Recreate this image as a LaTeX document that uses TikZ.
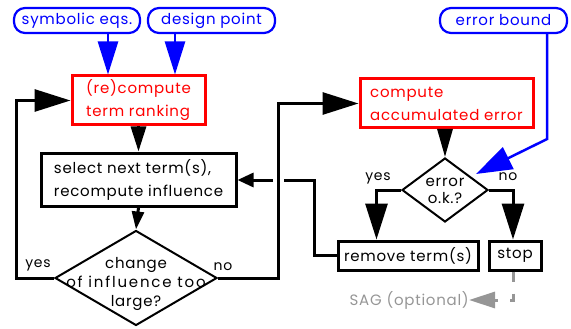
\documentclass[tikz,border=0pt]{standalone}
\usepackage{fontspec}
\setmainfont{Poppins}[LetterSpace=5]
\usetikzlibrary{arrows.meta,shapes.geometric,calc}
\definecolor{sagray}{RGB}{150,150,150}
\begin{document}
\begin{tikzpicture}[x=1pt,y=-1pt,
  every node/.style={font=\fontsize{15}{23}\selectfont, inner sep=0pt},
  inbox/.style={draw=blue, line width=2.2pt, rounded corners=11pt, text=blue, minimum height=25pt},
  redbox/.style={draw=red, line width=3pt, text=red, align=left},
  blkbox/.style={draw=black, line width=3pt, align=left},
  diam/.style={draw=black, line width=2pt, diamond, inner sep=0pt},
  conn/.style={line width=3pt, black},
  bconn/.style={line width=2.5pt, blue},
  bigtip/.style={-{Triangle[length=36pt,width=22pt]}},
  midtip/.style={-{Triangle[length=25pt,width=15pt]}},
  smalltip/.style={-{Triangle[length=18pt,width=12pt]}},
  lbl/.style={font=\fontsize{14}{16}\selectfont}
]
\useasboundingbox (0,0) rectangle (571,329);

% input nodes
\node[inbox, minimum width=126pt] (sym) at (77,20.5) {symbolic eqs.};
\node[inbox, minimum width=127pt] (dp) at (211.5,20.5) {design point};
\node[inbox, minimum width=127pt] (eb) at (503.5,20.5) {error bound};

% process boxes
\node[redbox, minimum width=133pt, minimum height=49pt] (rc) at (138.5,100.5) {(re)compute\\term ranking};
\node[blkbox, minimum width=195pt, minimum height=53pt] (sel) at (138.5,179.5) {select next term(s),\\recompute influence};
\node[redbox, minimum width=173pt, minimum height=49pt] (ce) at (446.5,103.5) {compute\\accumulated error};
\node[blkbox, minimum width=140pt, minimum height=29pt] (rm) at (408,255.5) {remove term(s)};
\node[blkbox, minimum width=52pt, minimum height=29pt] (st) at (515,255.5) {stop};

% decisions
\node[diam, minimum width=162pt, minimum height=95pt] (d1) at (136,278) {};
\node[align=center, font=\fontsize{15}{19}\selectfont] (d1t) at (136,284) {change\\{\addfontfeature{LetterSpace=12}of influence too}\\large?};
\node[diam, minimum width=86pt, minimum height=64pt] (ed) at (445,190) {};
\node[align=center, font=\fontsize{15}{17}\selectfont] (edt) at (445,191) {error\\o.k.?};

% SAG
\node[text=sagray, anchor=east] (sag) at (469,300) {SAG (optional)};

% labels
\node[lbl] (l1) at (38,265) {yes};
\node[lbl] (l2) at (223,267) {no};
\node[lbl] (l3) at (378,178) {yes};
\node[lbl] (l4) at (508,177) {no};

% blue inputs
\draw[bconn, -{Triangle[length=33pt,width=20pt]}] ([xshift=31pt]sym.south) -- ([xshift=31pt]sym.south |- rc.north);
\draw[bconn, -{Triangle[length=33pt,width=20pt]}] ([xshift=-36.5pt]dp.south) -- ([xshift=-36.5pt]dp.south |- rc.north);
\coordinate (ebtip) at (476,174);
\draw[bconn, -{Triangle[length=36pt,width=24pt]}] ([xshift=43.5pt]eb.south) -- ++(0,105) -- (ebtip);

% main flow
\draw[conn, midtip] (rc.south) -- (sel.north);
\draw[conn, smalltip] (sel.south) -- (d1.north);
\draw[conn, bigtip] (d1.west) -- (16,278) |- (rc.west);
\draw[conn, bigtip] (d1.east) -- (278,278) |- (ce.west);
\draw[conn, -{Triangle[length=28pt,width=15pt]}] (ce.south -| ed.north) -- (ed.north);
\draw[conn, bigtip] (ed.west) -| ([xshift=40pt]rm.north west);
\draw[conn, bigtip] (ed.east) -| ([xshift=-2pt]st.north);

% remove -> select with line hop
\coordinate (hopR) at (284,180);
\coordinate (hopL) at (273,180);
\draw[conn] (rm.west) -- ++(-22,0) |- (hopR);
\draw[conn, -{Triangle[length=16pt,width=14pt]}] (hopL) -- (sel.east |- hopL);

% SAG arrow
\draw[line width=3pt, sagray, dash pattern=on 10pt off 12pt, -{Triangle[length=26pt,width=16pt]}] ([xshift=-2pt]st.south) |- (sag.east);
\end{tikzpicture}
\end{document}
